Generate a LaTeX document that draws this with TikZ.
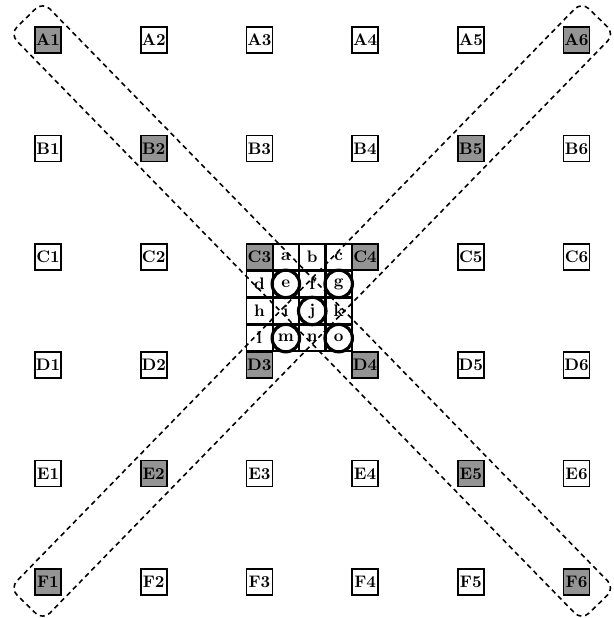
\documentclass[tikz,border=0pt]{standalone}
\usetikzlibrary{calc}
\tikzset{
  cell/.style={
    rectangle,
    draw,
    line width=1pt,
    minimum size=0.52cm,
    inner sep=0.3pt,
    font=\bfseries\fontsize{9.5}{11}\selectfont
  },
  hot/.style={cell, fill=black!42},
  ring/.style={circle, draw, line width=1.8pt, minimum size=0.55cm, inner sep=0pt},
  band/.style={line width=0.9pt, dash pattern=on 2.8pt off 2.2pt, rounded corners=0.2cm}
}

\begin{document}
\begin{tikzpicture}
  \useasboundingbox (0,0) rectangle (12.28,-12.36);

  \begin{scope}[shift={(0.96,-0.80)}, x=2.114cm, y=-2.168cm]
    % outer grid, the diagonal ones shaded
    \foreach \r [count=\j from 0] in {A,B,C,D,E,F}
      \foreach \c in {1,...,6} {
        \def\sty{cell}
        \ifnum\c=\numexpr\j+1\relax \def\sty{hot}\fi
        \ifnum\c=\numexpr6-\j\relax \def\sty{hot}\fi
        \node[\sty] (\r\c) at (\c-1,\j) {\r\c};
      }

    % small cells between C3, C4, D3 and D4
    \foreach \k/\l/\n in {1/0/a, 2/0/b, 3/0/c,
                          0/1/d, 1/1/e, 2/1/f, 3/1/g,
                          0/2/h, 1/2/i, 2/2/j, 3/2/k,
                          0/3/l, 1/3/m, 2/3/n, 3/3/o}
      \node[cell] (\n) at (2+\k/4,2+\l/4) {\n};

    \foreach \n in {e,g,j,m,o}
      \node[ring] (ring-\n) at (\n) {};
  \end{scope}

  % the two dashed bands
  \coordinate (p1) at ($(A1)!-0.62cm!(F6)$);
  \coordinate (p2) at ($(F6)!-0.62cm!(A1)$);
  \coordinate (pm) at ($(p1)!0.5!(p2)$);
  \draw[band] ($(pm)!0.46cm!90:(p2)$) -- ($(p2)!0.46cm!-90:(p1)$) -- ($(p2)!0.46cm!90:(p1)$)
    -- ($(p1)!0.46cm!-90:(p2)$) -- ($(p1)!0.46cm!90:(p2)$) -- cycle;

  \coordinate (q1) at ($(A6)!-0.62cm!(F1)$);
  \coordinate (q2) at ($(F1)!-0.62cm!(A6)$);
  \coordinate (qm) at ($(q1)!0.5!(q2)$);
  \draw[band] ($(qm)!0.46cm!90:(q2)$) -- ($(q2)!0.46cm!-90:(q1)$) -- ($(q2)!0.46cm!90:(q1)$)
    -- ($(q1)!0.46cm!-90:(q2)$) -- ($(q1)!0.46cm!90:(q2)$) -- cycle;
\end{tikzpicture}
\end{document}
